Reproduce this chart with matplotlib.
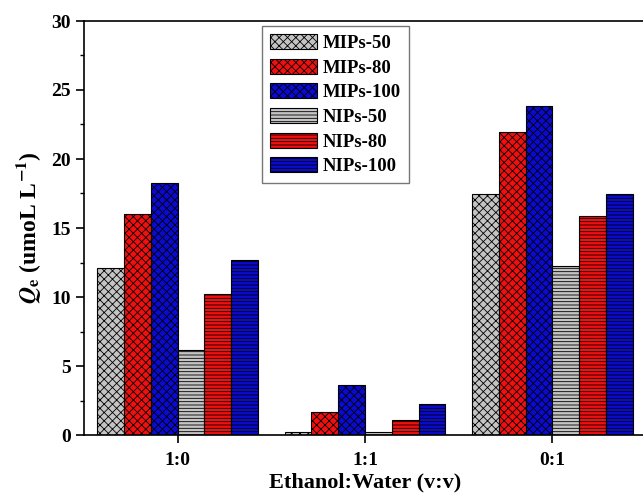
import numpy as np
import matplotlib
matplotlib.use("Agg")
import matplotlib.pyplot as plt

plt.rcParams['font.family'] = ['Liberation Serif', 'DejaVu Serif']
plt.rcParams['font.weight'] = 'bold'
plt.rcParams['mathtext.fontset'] = 'stix'
plt.rcParams['hatch.linewidth'] = 0.6

# data
groups = ['1:0', '1:1', '0:1']
series = ['MIPs-50', 'MIPs-80', 'MIPs-100', 'NIPs-50', 'NIPs-80', 'NIPs-100']
mips_50 = [12.1, 0.25, 17.45]
mips_80 = [16.0, 1.67, 21.95]
mips_100 = [18.25, 3.6, 23.85]
nips_50 = [6.15, 0.2, 12.25]
nips_80 = [10.2, 1.1, 15.85]
nips_100 = [12.7, 2.25, 17.45]
values = [mips_50, mips_80, mips_100, nips_50, nips_80, nips_100]

colors = ['#c4c4c4', '#f01010', '#0a0ad0', '#c4c4c4', '#f01010', '#0a0ad0']
hatches = ['xxxx', 'xxxx', 'xxxx', '-----', '-----', '-----']

fig = plt.figure(figsize=(6.43, 4.94), dpi=100)
ax = fig.add_axes([84 / 643, 1 - 435 / 494, 562 / 643, 414 / 494])

x = np.arange(1, len(groups) + 1)
w = 0.143
for i, (name, vals) in enumerate(zip(series, values)):
    ax.bar(x + (i - 2.5) * w, vals, w, color=colors[i], hatch=hatches[i],
           edgecolor='black', linewidth=0.8, label=name)

ax.set_xlim(0.5, 3.5)
ax.set_ylim(0, 30)
ax.set_xticks(x)
ax.set_xticklabels(groups)
ax.set_yticks(range(0, 31, 5))
ax.set_yticks(np.arange(2.5, 30, 5), minor=True)
ax.tick_params(axis='both', direction='out', labelsize=14, width=1.2)
ax.tick_params(axis='y', which='major', length=6)
ax.tick_params(axis='y', which='minor', length=3, width=1)
ax.tick_params(axis='x', length=6, pad=6)
for s in ax.spines.values():
    s.set_linewidth(1.2)
ax.spines['right'].set_visible(False)

ax.set_xlabel('Ethanol:Water (v:v)', fontsize=16, fontweight='bold', labelpad=3)
ax.set_ylabel(r'$\mathbfit{Q}_\mathbf{e}$ (umoL L$^{\mathbf{-1}}$)',
              fontsize=17, fontweight='bold', labelpad=6)

leg = ax.legend(loc='upper left', bbox_to_anchor=(0.317, 0.988), borderaxespad=0,
                fontsize=13.5, handlelength=2.5, handleheight=0.85,
                handletextpad=0.3, labelspacing=0.36, borderpad=0.42,
                fancybox=False, edgecolor='#777777', framealpha=1)
leg.get_frame().set_linewidth(1.0)
for t in leg.get_texts():
    t.set_fontweight('bold')

fig.savefig('out.png', dpi=100)
